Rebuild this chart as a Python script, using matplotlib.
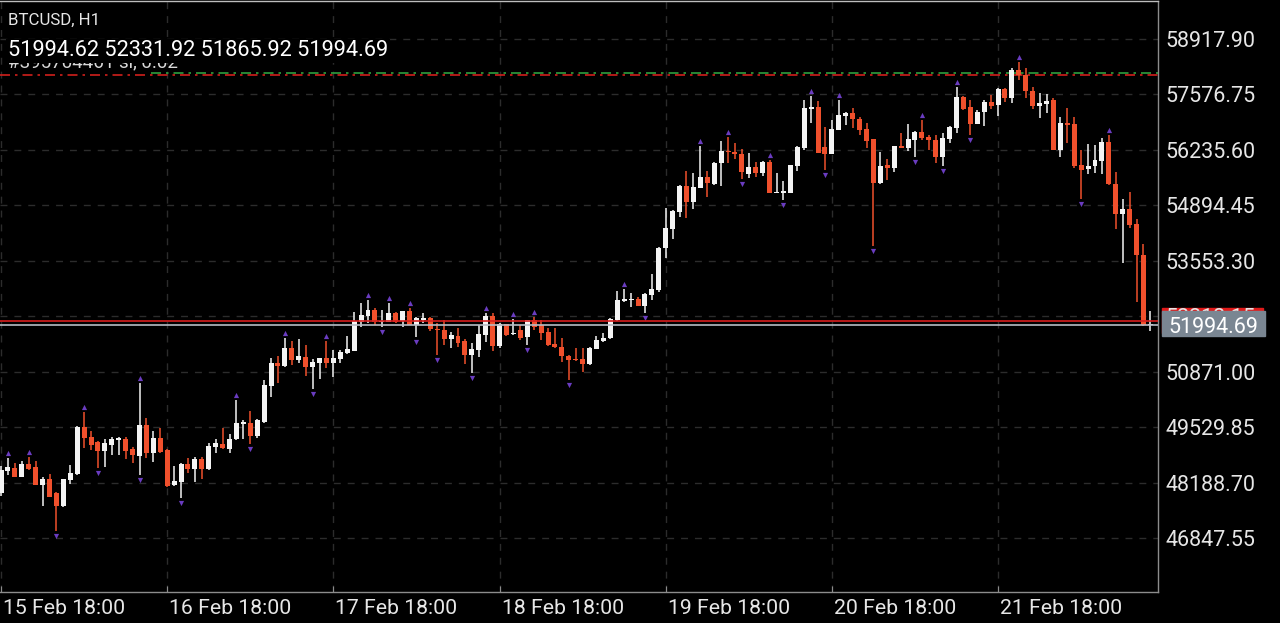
import matplotlib
matplotlib.use("Agg")
import matplotlib.pyplot as plt
import matplotlib.transforms as mtransforms
from matplotlib.patches import Rectangle

plt.rcParams['font.family'] = ['Roboto', 'DejaVu Sans']

# ---------------- data (BTCUSD, H1) ----------------
opens = [
    47936, 48480, 48548, 48330, 48637, 48558, 48129, 48274, 47936, 47621,
    48250, 48395, 49532, 49290, 49169, 48952, 49097, 49217, 49242, 49000,
    48831, 49580, 48903, 49266, 48976, 48129, 48202, 48637, 48516, 48758,
    48516, 49048, 49121, 49000, 49242, 49605, 49629, 49314, 49653, 50524,
    51081, 51008, 51443, 51153, 51226, 50984, 51081, 51202, 51081, 51177,
    51323, 51371, 52072, 52217, 52362, 52072, 52072, 52290, 52096, 52338,
    52000, 52120, 52169, 51903, 51879, 51661, 51734, 51613, 51274, 51395,
    51758, 52217, 51492, 52024, 51782, 51879, 51709, 52120, 52000, 51830,
    51540, 51467, 51250, 51177, 51177, 51056, 51419, 51613, 51685, 52120,
    52580, 52604, 52628, 52459, 52725, 52846, 53862, 54322, 54733, 55362,
    54975, 55314, 55580, 55410, 55918, 56208, 56184, 56136, 55652, 55821,
    55676, 55942, 55193, 55193, 55193, 55846, 56281, 57225, 57273, 56305,
    56136, 56717, 57055, 57128, 56983, 56741, 56499, 55435, 55870, 55797,
    56329, 56281, 56475, 56668, 56547, 56475, 56063, 56499, 56765, 57515,
    57273, 56862, 57152, 57394, 57321, 57708, 57491, 58168, 58047, 57660,
    57297, 57346, 57442, 56232, 56886, 56862, 55870, 55773, 55846, 55967,
    56426, 55410, 54684, 54805, 54443, 53693, 51994.62]

highs = [
    48589, 48782, 48662, 48717, 48807, 48703, 48323, 48395, 47960, 48274,
    48613, 49556, 49895, 49435, 49193, 49242, 49290, 49290, 49290, 49048,
    50596, 49750, 49435, 49508, 49000, 48589, 48662, 48782, 48807, 48807,
    49145, 49242, 49508, 49363, 50185, 49701, 49919, 49725, 50669, 51202,
    51250, 51685, 51613, 51661, 51516, 51177, 51202, 51613, 51395, 51395,
    51734, 52314, 52531, 52604, 52410, 52362, 52531, 52314, 52338, 52410,
    52193, 52290, 52193, 52048, 52120, 51830, 51927, 51661, 51564, 52000,
    52290, 52290, 52048, 52024, 52145, 52000, 52120, 52193, 52120, 51927,
    51927, 51685, 51274, 51443, 51443, 51467, 51734, 51806, 52169, 52822,
    52870, 52774, 52677, 52774, 53233, 53886, 54830, 54781, 55386, 55725,
    55676, 56329, 55725, 55942, 56450, 56547, 56402, 56257, 56160, 55942,
    55967, 55991, 55676, 55483, 55870, 56329, 57442, 57539, 57418, 56789,
    56959, 57442, 57152, 57249, 57031, 56886, 56499, 56184, 56015, 56329,
    56644, 56862, 56692, 56959, 56596, 56596, 56644, 56813, 57757, 57539,
    57442, 57201, 57442, 57563, 57733, 57733, 58216, 58361, 58216, 57757,
    57612, 57588, 57491, 57031, 57249, 57031, 56232, 56378, 56354, 56523,
    56596, 55700, 55047, 55217, 54564, 53959, 52331.92]

lows = [
    47863, 48371, 48323, 48323, 48492, 48118, 47621, 47827, 47016, 47597,
    48153, 48371, 49024, 48976, 48540, 48565, 48855, 48855, 48758, 48662,
    48371, 48782, 48686, 48903, 48081, 48105, 47815, 48420, 48202, 48274,
    48492, 48903, 49000, 48903, 49217, 49242, 49121, 49266, 49629, 50258,
    50596, 50984, 51032, 51081, 50766, 50451, 50693, 50960, 50742, 51081,
    51298, 51371, 51951, 52048, 52000, 51951, 52072, 52048, 51951, 52000,
    51709, 52048, 51855, 51274, 51516, 51443, 51467, 51056, 50839, 51226,
    51589, 51371, 51443, 51734, 51758, 51637, 51516, 51879, 51637, 51492,
    51443, 51105, 50669, 51129, 50863, 51032, 51419, 51589, 51661, 52096,
    52556, 52435, 52459, 52290, 52604, 52798, 53620, 54080, 54612, 54588,
    54805, 55314, 55096, 55386, 55362, 55918, 56015, 55531, 55556, 55580,
    55604, 55193, 55193, 55023, 55193, 55725, 56232, 56886, 56160, 55749,
    56136, 56717, 56838, 56765, 56596, 56281, 53911, 55410, 55507, 55700,
    56281, 56208, 56063, 56475, 56232, 55918, 55846, 56402, 56644, 57201,
    56596, 56862, 56813, 57225, 57055, 57394, 57370, 57926, 57491, 57225,
    57007, 57128, 56232, 56063, 56402, 55797, 55047, 55652, 55676, 55652,
    55386, 54322, 53499, 54346, 52556, 51970, 51865.92]

closes = [
    48492, 48553, 48330, 48637, 48524, 48123, 48274, 47839, 47621, 48274,
    48420, 49532, 49266, 49097, 48952, 49145, 49242, 49266, 48952, 48855,
    49580, 48903, 49266, 48928, 48105, 48226, 48637, 48516, 48758, 48516,
    49073, 49145, 49024, 49242, 49629, 49653, 49314, 49701, 50548, 51081,
    51008, 51443, 51153, 51250, 50984, 51105, 51202, 51081, 51202, 51347,
    51419, 52096, 52241, 52362, 52072, 52096, 52290, 52072, 52338, 52000,
    52169, 52169, 51903, 51879, 51661, 51758, 51564, 51274, 51419, 51782,
    52217, 51492, 52024, 51758, 51806, 51685, 52120, 51951, 51806, 51516,
    51467, 51250, 51153, 51153, 51056, 51443, 51637, 51685, 52145, 52604,
    52628, 52628, 52459, 52749, 52870, 53862, 54346, 54757, 55362, 54975,
    55338, 55580, 55435, 55918, 56208, 56184, 56136, 55700, 55821, 55676,
    55942, 55193, 55217, 55241, 55870, 56305, 57249, 57273, 56160, 56136,
    56741, 57080, 57128, 56983, 56717, 56450, 55435, 55846, 55797, 56329,
    56281, 56499, 56668, 56523, 56475, 56063, 56523, 56789, 57515, 57225,
    56862, 57152, 57394, 57297, 57708, 57491, 58168, 58047, 57660, 57297,
    57370, 57418, 56232, 56886, 56838, 55846, 55749, 55846, 55991, 56426,
    55410, 54684, 54805, 54418, 53693, 51994.62, 51994.69]

up_fractals = [1, 4, 12, 20, 34, 41, 47, 53, 56, 59, 70, 74, 77, 90, 101, 105,
               111, 117, 121, 133, 138, 147, 160]
down_fractals = [8, 14, 20, 26, 36, 45, 55, 60, 63, 68, 76, 82, 93, 107, 113,
                 119, 126, 132, 136, 140, 156]

price_ticks = [58917.90, 57576.75, 56235.60, 54894.45, 53553.30, 52212.15,
               50871.00, 49529.85, 48188.70, 46847.55]
time_tick_idx = [0, 24, 48, 72, 96, 120, 144]
time_tick_labels = ['15 Feb 18:00', '16 Feb 18:00', '17 Feb 18:00', '18 Feb 18:00',
                    '19 Feb 18:00', '20 Feb 18:00', '21 Feb 18:00']

symbol_text = 'BTCUSD, H1'
ohlc_text = '51994.62 52331.92 51865.92 51994.69'
bid_price = 51994.69
ask_price = 52096.0
sl_level = 58059.0
tp_level = 58107.0
order_text = '#395704461 sl, 0.02'

# ---------------- figure ----------------
W, H = 1280, 623
fig = plt.figure(figsize=(W / 100, H / 100), dpi=100, facecolor='black')
ax_left, ax_right, ax_top, ax_bottom = 0, 1158, 1, 592
ax = fig.add_axes([ax_left / W, 1 - ax_bottom / H, (ax_right - ax_left) / W,
                   (ax_bottom - ax_top) / H])
ax.set_facecolor('black')

n = len(opens)
ax.set_xlim(-0.15, 167.1)
ax.set_ylim(45541, 59837)

WHITE = '#f4f4f4'
RED = '#f0502c'
FRACT = '#6a3cc0'

# grid
for p in price_ticks:
    ax.axhline(p, color='#2c2c2c', lw=1, ls=(0, (5, 5)), zorder=0)
for t in time_tick_idx:
    ax.axvline(t, color='#2c2c2c', lw=1, ls=(0, (5, 5)), zorder=0)

# candles
xs = list(range(n))
body_bottom = [min(o, c) for o, c in zip(opens, closes)]
body_height = [max(abs(c - o), 30) for o, c in zip(opens, closes)]
colors = [WHITE if c >= o else RED for o, c in zip(opens, closes)]
ax.vlines(xs, lows, highs, colors=colors, lw=1.1, zorder=2)
ax.bar(xs, body_height, bottom=body_bottom, width=0.72, color=colors,
       edgecolor='none', zorder=3)

# fractals
ax.scatter(up_fractals, [highs[i] + 120 for i in up_fractals], marker='^', s=14,
           color=FRACT, linewidths=0, zorder=4)
ax.scatter(down_fractals, [lows[i] - 120 for i in down_fractals], marker='v', s=14,
           color=FRACT, linewidths=0, zorder=4)

# order lines
ax.axhline(sl_level, color='#d0201c', lw=1.2, ls=(0, (6, 3, 1.5, 3)), zorder=1)
ax.plot([150 / 6.925, 167.1], [tp_level, tp_level], color='#2e9e3e', lw=1.2,
        ls=(0, (6, 3, 1.5, 3)), zorder=1)

# ask / bid lines
ax.axhline(ask_price, color='#d81e1e', lw=1.2, zorder=5)
ax.axhline(bid_price, color='#b8bcc4', lw=1.2, zorder=5)

# spines
ax.spines['left'].set_visible(False)
ax.spines['top'].set_color('#bdbdbd')
ax.spines['right'].set_color('#8c8c8c')
ax.spines['bottom'].set_color('#8c8c8c')
for s in ['top', 'right', 'bottom']:
    ax.spines[s].set_linewidth(1)

ax.set_yticks([])
ax.set_xticks(time_tick_idx)
ax.set_xticklabels(time_tick_labels)
ax.tick_params(axis='x', direction='in', length=4, color='#8c8c8c',
               labelcolor='#e6e6e6', labelsize=15.3, pad=5)
for lab in ax.get_xticklabels():
    lab.set_horizontalalignment('left')
    lab.set_transform(lab.get_transform() + mtransforms.ScaledTranslation(2 / 100, 0, fig.dpi_scale_trans))

# right price labels
blend = mtransforms.blended_transform_factory(ax.transAxes, ax.transData)
down3 = mtransforms.ScaledTranslation(0, -2.5 / 100, fig.dpi_scale_trans)
px_w = ax_right - ax_left
ax.add_patch(Rectangle((1162 / px_w, ask_price - 290), 101 / px_w, 600,
                       transform=blend, color='#e01a1a', clip_on=False, zorder=6))
for p in price_ticks:
    ax.text(1165 / px_w, p, f'{p:.2f}', transform=blend + down3, va='center', ha='left',
            color='#e6e6e6', fontsize=15.5, clip_on=False, zorder=7)
ax.add_patch(Rectangle((1162 / px_w, bid_price - 260), 103 / px_w, 600,
                       transform=blend, color='#7a8692', clip_on=False, zorder=8))
ax.text(1168 / px_w, bid_price, f'{bid_price:.2f}', transform=blend + down3, va='center',
        ha='left', color='white', fontsize=15.5, clip_on=False, zorder=9)

# header texts
fig.text(8 / W, 1 - 62 / H, order_text, color='#d8d8d8', fontsize=13.5,
         va='center', ha='left', zorder=10)
fig.text(8 / W, 1 - 51 / H, ohlc_text, color='white',
         fontsize=15.7, va='center', ha='left', zorder=11,
         bbox=dict(facecolor='black', edgecolor='none', pad=1.2))
fig.text(8 / W, 1 - 20 / H, symbol_text, color='#e6e6e6', fontsize=12.2,
         va='center', ha='left', zorder=11)

fig.savefig('out.png', dpi=100, facecolor='black')
